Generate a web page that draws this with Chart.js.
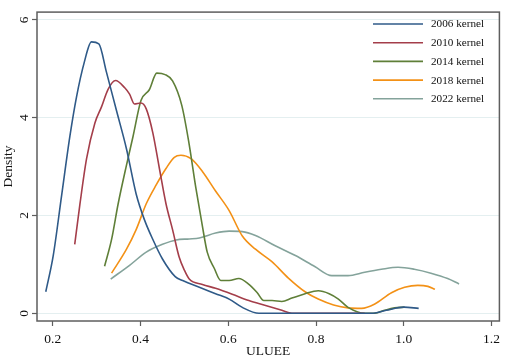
<!DOCTYPE html>
<html>
<head>
<meta charset="utf-8">
<script src="https://cdn.jsdelivr.net/npm/chart.js@4/dist/chart.umd.min.js"></script>
<style>
html,body{margin:0;padding:0;background:#fff;}
canvas{display:block;}
</style>
</head>
<body>
<canvas id="c" width="505" height="358"></canvas>
<script>
// ---- data ----
const SERIES_LABELS = ["2006 kernel", "2010 kernel", "2014 kernel", "2018 kernel", "2022 kernel"];

const X_2006 = [0.184,0.201,0.22,0.239,0.254,0.272,0.288,0.305,0.322,0.345,0.368,0.39,0.409,0.428,0.45,0.479,0.496,0.534,0.571,0.602,0.632,0.67,0.75,0.85,0.93,0.96,1.0,1.034];
const Y_2006 = [0.44,1.18,2.4,3.62,4.42,5.14,5.55,5.51,4.94,4.15,3.36,2.44,1.91,1.51,1.11,0.75,0.67,0.53,0.40,0.29,0.12,0,0,0,0,0.06,0.125,0.10];

const X_2010 = [0.25,0.262,0.277,0.296,0.311,0.326,0.343,0.364,0.375,0.386,0.401,0.413,0.428,0.443,0.458,0.473,0.488,0.5,0.511,0.541,0.571,0.609,0.647,0.685,0.722,0.745,0.85,0.911];
const Y_2010 = [1.41,2.24,3.16,3.89,4.22,4.58,4.76,4.61,4.48,4.28,4.30,4.18,3.69,2.96,2.24,1.71,1.15,0.88,0.70,0.59,0.51,0.39,0.26,0.16,0.06,0,0,0];

const X_2014 = [0.318,0.334,0.349,0.368,0.383,0.401,0.420,0.437,0.456,0.473,0.494,0.510,0.526,0.541,0.552,0.568,0.583,0.602,0.624,0.647,0.666,0.681,0.700,0.722,0.745,0.775,0.805,0.83,0.851,0.873,0.911,0.934,0.956,0.979,1.002];
const Y_2014 = [0.96,1.51,2.24,3.03,3.62,4.35,4.57,4.91,4.88,4.75,4.25,3.5,2.57,1.78,1.25,0.92,0.67,0.67,0.71,0.59,0.42,0.26,0.26,0.24,0.31,0.40,0.46,0.40,0.29,0.12,0.0,0.0,0.06,0.11,0.125];

const X_2018 = [0.334,0.368,0.39,0.413,0.436,0.458,0.477,0.492,0.515,0.541,0.571,0.602,0.632,0.662,0.700,0.737,0.775,0.805,0.84,0.873,0.904,0.934,0.972,1.002,1.032,1.055,1.071];
const Y_2018 = [0.82,1.31,1.71,2.24,2.63,2.96,3.19,3.23,3.16,2.90,2.50,2.10,1.58,1.31,1.05,0.72,0.44,0.29,0.17,0.11,0.10,0.19,0.42,0.53,0.57,0.55,0.49];

const X_2022 = [0.332,0.375,0.413,0.450,0.481,0.511,0.534,0.571,0.602,0.632,0.662,0.707,0.753,0.798,0.836,0.873,0.911,0.949,0.987,1.024,1.062,1.100,1.126];
const Y_2022 = [0.70,0.98,1.25,1.41,1.50,1.52,1.54,1.64,1.68,1.67,1.59,1.38,1.18,0.95,0.77,0.77,0.84,0.90,0.94,0.90,0.82,0.71,0.60];

const X_TICKS = [0.2, 0.4, 0.6, 0.8, 1.0, 1.2];
const Y_TICKS = [0, 2, 4, 6];
const X_TITLE = "ULUEE";
const Y_TITLE = "Density";

// ---- styling ----
const COLORS = ["#2f5a88", "#a43e4a", "#5f7f38", "#f39116", "#84a39b"];
const FONT = "'Liberation Serif', 'Times New Roman', serif";
const TEXT = "#111111";

const XS = [X_2006, X_2010, X_2014, X_2018, X_2022];
const YS = [Y_2006, Y_2010, Y_2014, Y_2018, Y_2022];

const datasets = SERIES_LABELS.map((lab, i) => ({
  label: lab,
  data: XS[i].map((x, j) => ({x: x, y: YS[i][j]})),
  borderColor: COLORS[i],
  backgroundColor: COLORS[i],
  borderWidth: 1.6,
  pointRadius: 0,
  fill: false,
  cubicInterpolationMode: 'monotone'
}));

const bgPlugin = {
  id: 'bg',
  beforeDraw(chart) {
    const c = chart.ctx;
    c.save();
    c.fillStyle = '#fff';
    c.fillRect(0, 0, chart.width, chart.height);
    c.restore();
  }
};

const framePlugin = {
  id: 'frame',
  afterDraw(chart) {
    const a = chart.chartArea, c = chart.ctx;
    c.save();
    c.strokeStyle = '#5e5e5e';
    c.lineWidth = 1.5;
    c.strokeRect(a.left, a.top, a.right - a.left, a.bottom - a.top);
    c.restore();
  }
};

const legendPlugin = {
  id: 'inlegend',
  afterDraw(chart) {
    const c = chart.ctx;
    c.save();
    c.font = "11.2px " + FONT;
    c.textBaseline = 'middle';
    c.textAlign = 'left';
    chart.data.datasets.forEach((ds, i) => {
      const y = 24 + i * 18.7;
      c.strokeStyle = ds.borderColor;
      c.lineWidth = 1.6;
      c.beginPath();
      c.moveTo(373, y);
      c.lineTo(423, y);
      c.stroke();
      c.fillStyle = TEXT;
      c.fillText(ds.label, 431, y + 0.5);
    });
    c.restore();
  }
};

new Chart(document.getElementById('c'), {
  type: 'line',
  data: { datasets: datasets },
  options: {
    responsive: false,
    animation: false,
    devicePixelRatio: 1,
    layout: { padding: { top: 2, right: 3, left: 0, bottom: 0 } },
    plugins: { legend: { display: false }, tooltip: { enabled: false } },
    scales: {
      x: {
        type: 'linear',
        min: 0.164,
        max: 1.218,
        afterBuildTicks: s => { s.ticks = X_TICKS.map(v => ({ value: v })); },
        afterFit: s => { s.height = 37; },
        ticks: {
          callback: v => Number(v).toFixed(1),
          font: { family: FONT, size: 13.5 },
          color: TEXT,
          padding: 5,
          minRotation: 0,
          maxRotation: 0
        },
        grid: { drawOnChartArea: false, tickLength: 5, tickColor: '#5e5e5e', tickWidth: 1.2 },
        border: { display: false },
        title: { display: true, text: X_TITLE, font: { family: FONT, size: 13.5, lineHeight: 0.9 }, color: TEXT, padding: { top: 0, bottom: 0 } }
      },
      y: {
        type: 'linear',
        min: -0.158,
        max: 6.158,
        afterBuildTicks: s => { s.ticks = Y_TICKS.map(v => ({ value: v })); },
        afterFit: s => { s.width = 37; },
        ticks: {
          callback: v => String(v),
          font: { family: FONT, size: 13.5 },
          color: TEXT,
          padding: 4,
          minRotation: 90,
          maxRotation: 90,
          crossAlign: 'center'
        },
        grid: { color: '#e4eff0', lineWidth: 1, tickLength: 5, tickColor: '#5e5e5e', tickWidth: 1.2 },
        border: { display: false },
        title: { display: true, text: Y_TITLE, font: { family: FONT, size: 13.5 }, color: TEXT, padding: { top: 0, bottom: 0 } }
      }
    }
  },
  plugins: [bgPlugin, framePlugin, legendPlugin]
});
</script>
</body>
</html>
